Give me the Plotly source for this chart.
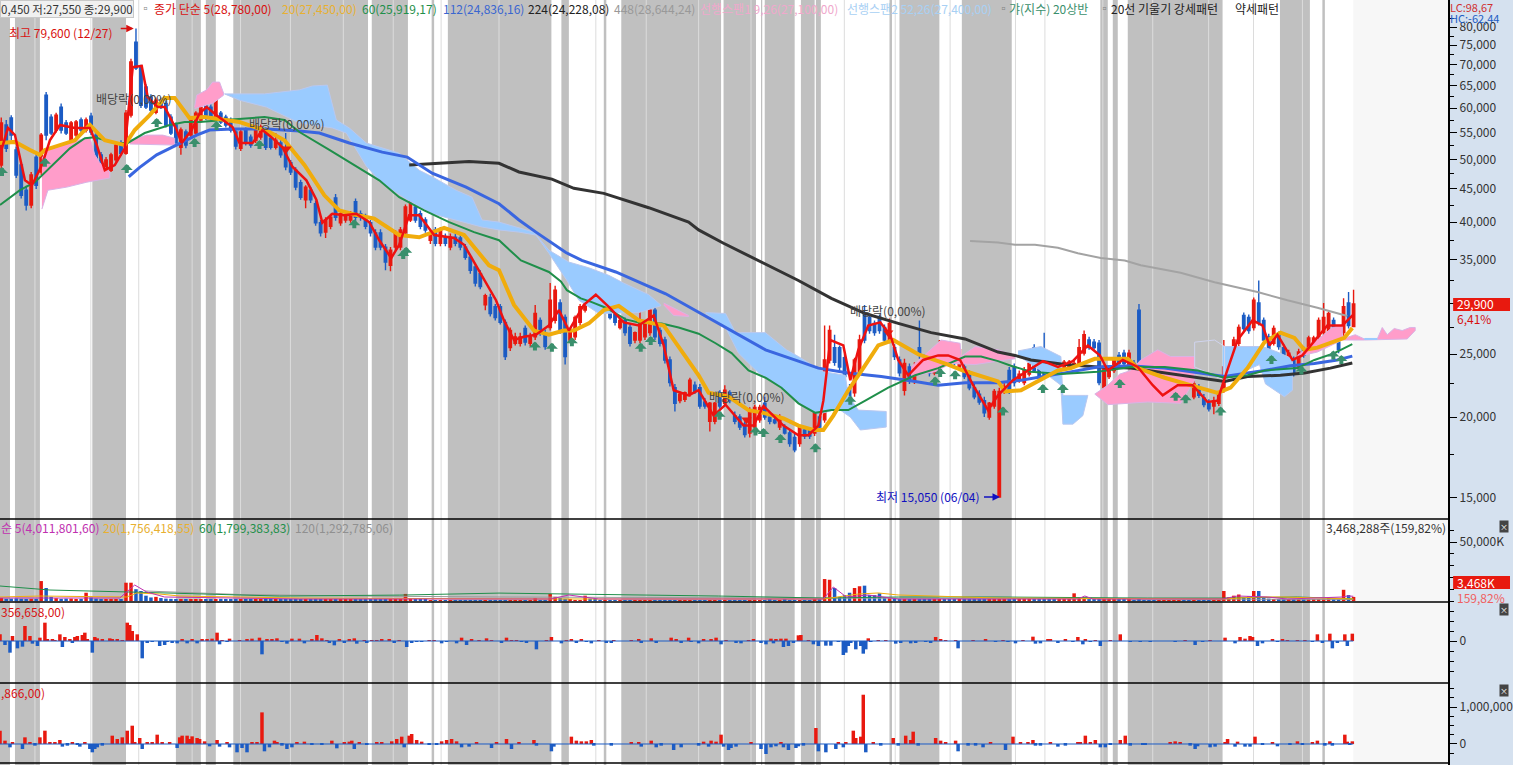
import math
import plotly.graph_objects as go

W, H = 1513, 765
AXIS_X = 1451

# prices in thousand won, one candle every 5 px of the reference
open_k = [
    49.0,56.5,57.9,51.7,49,44.8,42.5,50.4,47.8,62.8,
    58.1,55.5,60.2,56.9,53,54.5,57.5,55.5,58.3,54.5,
    50.8,47.3,48.1,49.9,53,51.1,58.5,75.8,69.5,64.7,
    62.4,59.1,61.7,61,58.1,56.5,52.2,55.1,54.5,54.9,
    57.5,60.6,60.2,57.9,58.9,58.1,57.5,55.1,52,55.5,
    54.1,53.5,54.1,55.5,53.9,52.2,53,51.7,49.4,48.1,
    46,43.3,44.8,42.7,39.9,38.6,39.4,43.6,39.9,40.3,
    40.3,43,41.2,40.7,39.9,38.5,38.5,36.6,34.3,36.6,
    36.6,38.5,40.3,42.2,41.2,40.3,37.5,38.9,37.1,37.9,
    36.6,37.9,37.8,36.6,35.3,34.1,33.3,29.8,30.6,29.6,
    29.6,28,25.6,26,26,27.4,26,26.6,28.2,27,
    27.5,28.2,30,28.5,26.3,26.6,28,29.25,32.5,31.8,
    30,29.25,30,29.25,27.5,28.2,27.5,26.3,26.3,26.6,
    27,29.25,27.2,26.3,24.5,22.2,21.2,21.3,21.7,22.4,
    22.2,21.1,19.7,19.7,21.8,21,21.8,20.1,20,19.5,
    18.9,19.3,19.8,21,20,19.8,19.3,19.3,18.9,18.6,
    18.2,19.1,19.1,18.9,20,19.8,24.5,25.6,25.6,24.7,
    22.2,21.8,23.4,28.9,28.5,27.9,28.5,27.5,26.3,25.6,
    24.5,22,23.9,22.8,25.6,24.7,24.2,23.4,23.9,25.4,
    25,24.7,23.9,23.9,23.3,22.2,21.7,21.2,20,20.8,
    15.05,21.9,23.6,23.9,22.8,22.6,23.3,25.6,24.5,24.5,
    24.5,24.2,23.1,23.9,23.9,24.1,24.2,25.1,26.3,26.1,
    26,22.2,23.1,23.6,24.9,25.1,23.9,24.2,29.25,23.9,
    23.2,22.6,21.5,21.6,21.6,21.9,22.5,23,23,21.5,
    22.2,21.4,21,20.8,21,22,23.9,24.7,26,28.7,
    28.5,27.5,30,28.2,26.6,26,26.8,25.6,24.5,24.5,
    23.9,25.4,25.4,25.7,26.6,27,26.8,28.2,26.1,27,
    30,27.6]
high_k = [
    58,57.5,58.5,52.3,49.5,45.5,47.8,51,54.9,63.5,
    58.7,59,61,57.5,57.3,57.5,58,58,59,55,
    51.3,50.4,51.2,53,53.5,59.6,71.5,79.6,70,65.3,
    63,62.3,62.3,61.7,58.7,57,56,55.6,58,59.3,
    60.8,61.2,60.8,62.8,59.4,58.6,58,55.6,55.6,56,
    54.6,56.6,56.6,56,54.4,54.9,53.5,54.9,49.9,48.6,
    46.5,45.6,45.3,43.2,40.3,40.7,41.2,44.2,41.6,41.3,
    41.6,43.5,41.7,41.2,40.3,39,39,37,36.6,38.9,
    39.3,42.6,44,42.7,41.7,40.7,38.9,39.3,39.3,38.4,
    38.4,38.4,38.2,37,35.7,34.5,33.7,31,31,29.9,
    29.9,28.3,27.5,27,27,27.7,27,29.8,28.5,27.3,
    32.2,31.9,30.4,28.8,27.3,28.7,29.9,31.4,33.3,32.2,
    30.3,30.8,30.3,29.5,28.4,28.5,27.8,27.1,29.8,28.2,
    29.6,30,27.5,26.6,24.8,22.5,21.9,21.9,23,22.7,
    22.5,21.4,21.1,21.1,22,22.4,22,20.4,20.2,19.7,
    20.7,20.9,20.9,21.5,20.2,20,20.2,19.5,19.1,18.9,
    19.4,19.3,19.3,20.5,20.2,27.7,27.7,26.8,25.8,25,
    22.5,24.7,26.8,29.8,28.8,28.2,28.8,27.8,28.4,25.9,
    24.8,24.6,24.2,24.3,28.2,25,24.5,24.5,26.3,25.7,
    25.3,25,25.7,24.2,23.6,22.5,22,21.5,21.1,22.1,
    22.2,22.6,23.9,24.2,23.6,23.9,24.4,25.9,24.8,27,
    24.8,24.5,24.1,24.5,24.5,24.4,26.4,27.2,26.6,26.4,
    26.3,24,24,24.7,25.2,25.4,25.4,24.5,29.9,24.2,
    23.5,22.9,22,22,22.2,22.8,23.3,23.3,23.3,22.8,
    22.5,21.7,21.3,21.5,21.9,26.3,24.9,26.6,27.8,29,
    28.8,30.6,32.5,28.5,26.9,27.7,27.1,25.9,25.4,24.8,
    25.5,25.7,26.7,26.7,28.5,30,29.1,28.5,26.4,30.5,
    31.2,31.45]
low_k = [
    48.1,51.3,53.5,46.8,43.5,41.7,42,45,47.3,53.5,
    54.5,55,54.8,54.5,52.2,54,55,55,54.5,49.4,
    47.3,46.8,47.8,49.4,50.6,50.8,58,68.7,60,59.8,
    59,58.7,59.8,56,54.5,52.7,50.8,52,54,54.5,
    57,57.5,57.4,57.4,56.7,56,55,51.8,51.5,52.5,
    52.1,53,53.6,51.7,51.8,51.8,50.3,48.1,47.3,44.8,
    43.3,42,42.8,39.5,38,37.8,39,40.2,39.5,39.9,
    39.9,40.2,40.2,39,38,36.2,36.2,33.7,33.6,36.2,
    36.2,38,40,39.9,39,38.5,37,36.7,36.7,36.7,
    36.2,36.7,36.2,35,33.3,31.8,31.5,29.25,28.6,28.2,
    27.8,24.5,25.3,25.8,25.7,25.8,25.7,26.3,26.7,25.4,
    27.2,27.9,26.9,24.1,26,26.3,27.7,29,30,29.7,
    29,29,28.3,27.7,27.3,26.7,25.7,26,26,26.3,
    26.7,26.3,25.7,24.2,22.3,20.4,21,21.1,21.5,21.7,
    20.6,20.6,19,19.5,20.6,20.8,21,19.5,19.1,18.6,
    18.6,19.1,19.6,19.8,19.5,19.5,19.1,18.8,18,17.65,
    18,18.5,18.5,18.7,19.1,19.6,24.2,24,23.6,22.8,
    20.5,21.5,23.2,26,26.9,26.7,26.9,26,26,24.5,
    23.1,21.6,22.5,22.5,24.6,24,23.1,23.2,23.7,24.2,
    24,24,23.7,22.9,22,21.3,20.9,20,19.8,20.6,
    15.05,21.7,21.7,22.3,22.6,22.4,23.1,23.4,22.9,22.9,
    23.2,23,22.9,23.7,23.7,23.9,24,24.9,25.4,25.4,
    22.4,22,22.9,23.4,24,24,23.7,22.7,23,22.9,
    22,21.3,21.3,21.4,21.4,21.7,22.3,22.2,22.3,21.3,
    21.4,20.7,20.4,20.2,20.8,21.8,23.7,24.5,25.7,27.1,
    26.9,27.2,27.7,26,25.1,25.8,25.4,24.2,24.3,23.1,
    23.7,24.7,25.1,25.4,26.3,26.7,26.5,26.3,25.1,26.7,
    27.4,27.55]
close_k = [
    56.9,52,54.5,47.3,44,42.5,47.3,45.6,54.5,54.5,
    54.9,58.5,55.5,54.9,56.9,57.1,55.5,57.5,55.1,49.9,
    47.8,49.9,50.8,52.6,51.1,58.9,70.7,69.2,60.6,60.2,
    59.6,61.7,60.2,56.5,54.9,53.1,55.5,52.6,57.5,58.9,
    60.2,57.9,57.9,62.4,57.1,56.5,55.5,52.4,55.1,53,
    52.6,56.1,56.1,52.2,52.2,53.5,50.8,48.7,47.8,45.3,
    43.7,45.3,43.3,39.9,38.5,40.3,40.7,40.7,41.2,41,
    41.2,40.7,40.7,39.4,38.5,36.6,36.6,34.7,36.2,38.5,
    38.9,42.2,43.3,40.3,39.4,38.9,38.5,37.1,38.9,37.1,
    37.9,37.1,36.6,35.3,33.7,32.2,31.8,30.8,28.9,28.5,
    28,24.8,27.2,26.6,26.6,26.1,26.6,28.9,27,25.7,
    30.3,31.4,27.2,24.8,27,28.5,29.6,31.1,30.3,30,
    29.25,30.5,28.5,28,28.2,27,26,27,28.2,28,
    29.25,26.6,26,24.5,22.6,21,21.7,21.8,22.8,21.9,
    20.8,20.8,21,21,20.8,22,21.2,19.7,19.3,18.8,
    20.5,20.7,20.7,20,19.7,19.6,20,18.9,18.2,17.8,
    19.3,18.7,18.7,20.3,19.3,24.5,27.2,24.3,23.9,23.1,
    20.7,24.5,26.3,26.3,27.2,27,27.2,26.3,27.9,24.8,
    23.4,24.2,22.8,23.9,24.9,24.2,23.4,24.2,25.6,24.5,
    24.2,24.2,25.4,23.1,22.2,21.5,21.1,20.3,21,21.9,
    21.9,22.3,22,22.6,23.3,23.6,24.2,23.6,23.1,23.1,
    23.4,23.2,23.9,24.3,24.3,24.2,25.6,26.8,25.6,25.6,
    22.6,23.9,23.8,24.5,24.2,24.2,25.1,23,23.1,23.2,
    22.2,21.5,21.9,21.9,22,22.5,23.1,22.4,22.5,22.5,
    21.6,20.9,20.6,21.2,21.7,23.9,24.7,26.3,27.5,27.4,
    27.2,30.3,28,26.3,25.4,27.4,25.7,24.5,25.1,23.4,
    25.2,24.9,26.5,26.5,28.2,28.5,28.9,26.6,25.4,29.6,
    27.7,29.9]

# volume in thousand shares, same candles
volume_k = [
    2500,1800,2000,2200,1800,1600,1800,1800,16900,11000,
    3500,2400,1800,2000,2000,1500,1800,7000,3000,2000,
    1600,1500,1500,1700,1600,15500,15500,10000,8500,4500,
    3000,3500,2500,2000,1800,1600,1600,1500,1500,1500,
    1500,1500,1300,1300,1800,1300,1300,1200,1200,1200,
    1200,1200,1200,1200,1300,1200,1200,1100,1100,1100,
    1000,1000,1000,1000,1000,1100,1000,1000,1000,1000,
    1000,900,1000,900,900,900,900,1000,1000,900,
    900,6000,2500,2000,900,900,800,800,800,800,
    800,800,800,800,700,800,700,800,700,800,
    800,800,800,800,800,700,800,2500,800,800,
    6000,3500,2500,1200,1000,800,800,4500,2000,1800,
    800,800,700,800,700,800,800,700,800,800,
    700,800,800,700,800,700,800,800,700,800,
    800,700,800,800,700,800,800,700,800,800,
    800,700,800,800,900,800,800,900,800,800,
    800,800,800,1800,1000,18600,18000,11000,3500,5000,
    7000,11000,12500,13000,5000,5000,6500,3000,2500,2000,
    1800,1500,1300,1200,1100,1000,1000,1000,1000,1000,
    1000,900,900,900,1000,900,900,900,900,900,
    900,1100,900,900,900,900,900,900,900,900,
    900,900,900,900,900,6500,2000,1600,1200,1000,
    900,900,900,900,900,900,900,800,900,800,
    800,800,800,800,800,800,800,800,800,800,
    800,800,800,800,800,8500,3000,4500,5500,3000,
    4000,8500,8500,3000,2000,1500,1200,1000,900,900,
    900,900,900,1500,900,900,2500,1000,900,9500,
    5000,3468]

# moving averages, read at the bends of each line (day, thousand won)
ma5_days = [0,3.2,6,10,12.8,16.8,20,24,30,36,38.8,42,46,50,53.2,56.8,59.2,63.2,66,70.8,72.8,76.8,80,82.8,86.8,93.2,96,101.2,105.2,108.8,113.2,117.2,122.8,126.8,129.2,133.2,138,142.8,148,152,156.8,160,164,168,174,182,186,190,194.8,198.8,202,206,210,214.8,220,224,228,234,238.8,244,250,256,262,266,270,276,280,286,290.8,298,302,306,314,320,324,328,330,332.8,338,340.8,344,348,352.8,356.8,360,364,370,376,380,384.8,390,396,400,406,412,418,424,430,436,440.8,444,450,456,462,466,472,478,484,488,491.2,496,502,506,508.8,512,518,522,527.2,532,538,542.4]
ma5_vals = [50.8,55.9,54.5,46.4,45.6,49,53.5,56.5,55.9,55.9,52.6,48.1,49,52,69.4,69.7,62.4,60.2,60.2,55.5,53,55.5,58.9,60.2,58.5,56.1,53,53,55.5,54.1,52.2,48.7,46.4,43.3,39.9,41.2,41,41.2,40,37.5,35.2,36.9,41,41,38.2,37.8,36.9,34.7,32.2,30.3,28.2,26.3,26.6,26.8,27.7,29.25,27.2,29.8,30.9,29.6,28,27.7,28.7,25.8,22,21.6,22,20.1,20.9,19.4,19.4,20.8,19.4,18.75,18.75,19.4,21.2,26.3,25.8,22.8,25.4,27.7,28,26.8,24.5,23.2,24.5,24.9,24.9,24.5,22.4,20.5,21.6,22.8,23.6,24.4,23.9,24.4,25.8,24.9,23.6,24.5,23.9,22.4,21.6,22.4,22.4,21.1,21.2,23.2,26.3,28.2,27.7,25.8,26.8,24.5,24.9,26.3,27.7,27.7,28.78]
ma20_days = [0,6,12,16,18,24,30,36,42,50,54,60,66,70,76,82,96,108,114,122,130,136,142,150,160,168,178,186,196,200,206,214,220,226,230,236,242,248,256,266,276,280,284,292,300,306,314,320,326,330,334,340,346,352,358,368,380,386,400,402.8,409.2,416,424,429.2,438.8,445.2,452,456,466.8,478.8,488,493.2,500,506.8,513.2,518.8,522.8,528,533.2,538.8,542]
ma20_vals = [53,53.2,51.7,50.8,51.7,52.6,53.5,56.5,53.5,52.6,55.5,58.5,62.2,62.2,57.9,58.1,57.1,55.1,53.5,49,44,41.7,41.1,40.5,38.2,37.9,39.2,38.2,34.3,33.7,29.8,27.2,26.8,27.2,27.2,27.9,29.25,29.7,28.2,27.7,24.5,23.2,21.8,21.5,20.5,20.3,19.9,19.4,19.1,19.1,20.1,22,23.8,25.8,26.3,25,24.1,23.6,22.7,21.9,22,22.7,23.6,23.8,24.6,24.6,24.6,23.8,23,22.3,21.8,22.2,23.8,26.1,27,26.5,25.4,25.6,26,26.5,27.45]
ma60_days = [0,8,14,20,28,34,38,46,51.2,58,68,74,80,90,106,114,120,132,142,152,160,170,180,190,200,208.8,220,224.8,227.2,232.8,237.2,242.8,250.8,256,265.2,272,280,286.8,293.2,300,306.8,313.2,320,326.8,333.2,340,346.8,356,366.8,376,386.8,393.2,400,405.2,413.2,425.2,440,453.2,466.8,480,490.8,500,506.8,520,526.8,534.8,542]
ma60_vals = [42.5,44.8,46.1,48.6,52,53.9,54.1,53,53,54.9,56.5,57.1,57.1,57.5,58.1,57.5,55.1,51.7,49,46.4,43.7,41.7,40,38.6,37.5,34.9,33.5,32.4,31.4,30.5,30.1,29.5,28.3,28,27.9,27.5,26.9,26,25.1,23.6,23,22.2,21,20.3,20.5,20.5,21.2,22.2,23.2,23.8,24.8,24.8,24.4,24,23.5,23.3,23.5,23.9,23.9,23.6,23,23.2,23.6,23.8,24.5,25.1,25.92]
ma112_days = [51.6,56,62.8,70.8,78.8,84,93.2,106.8,120,128,140,153.2,163.2,173.2,186.8,200,208,214.8,226.8,233.2,246.8,266.8,280,293.2,306.8,320,328,340,353.2,366.8,376,386.8,400,409.2,418.8,426.8,440,453.2,466.8,480,490.8,500,506.8,517.2,526.8,536,542]
ma112_vals = [47,48.6,50.8,52.6,54.5,55.5,55.7,55.7,55.3,54.9,53,51.3,50.4,47.6,45.3,42.7,40.3,38.6,35.9,34.9,33.5,31,29,27.2,25.4,24.4,23.8,23.4,23.1,22.7,22.4,22.6,22.6,22.8,23.1,23.4,23.9,24,23.8,23.4,23.1,23.4,23.6,24,24.2,24.5,24.84]
ma224_days = [164,168,188,200,208,221.2,230,242,252,260,276,280,290,304,320,333.2,346.8,360,373.2,386.8,400,406.8,413.2,426.8,440,453.2,466.8,480,490.8,500,513.2,522.8,533.2,542]
ma224_vals = [49,49.1,49.6,49.3,47.8,46.6,45.1,44.3,43.1,42.1,40,38.9,37.1,34.9,32.5,30.5,28.9,27.9,27,26.4,25.2,24.9,24.5,24.1,23.9,23.8,23.4,23,22.7,23.1,23.2,23.4,23.8,24.23]
ma448_days = [388.8,400,406.8,414.8,424,432,441.2,450.8,457.2,473.2,486.8,504,516,528,540]
ma448_vals = [37.4,37.2,36.9,36.9,36.5,35.8,35.2,34.9,34.3,33.4,32.3,31.2,30.3,29.5,28.64]

# ichimoku cloud pieces: upper edge left to right, lower edge right to left
clouds = [
    ("pink", [16.8,20,28,36,38,40,44], [50.2,52.2,53.1,54.1,50.8,49.4,47.8], [44,34.8,26.8,19.2,16.8], [46.8,46.1,45.3,44.8,41.9]),
    ("pink", [52,58.8,65.2,70], [53.5,54.5,54.5,53.9], [70,52], [52.6,52.8]),
    ("pink", [78,78.8,82.8,85.2,88,89.6], [60.2,62.8,64,65.8,65.8,63.3], [89.6,85.2,80,78], [62.8,61,60.2,59.9]),
    ("blue", [90,106,120,125.2,131.2,133.2,134.8,140,146.8,160,168,173.2,182.8,189.2,193.2,200,208,214,220,228,236,244,250,260,264.8],
     [63.1,63.1,64,64.9,65.1,60.6,57.5,55.9,53,51.1,48.1,47,44.8,43.7,40.3,40,39.2,38.6,36.2,34.7,34,33.1,32.2,30.9,29.8],
     [264.8,256,240,232,227.2,220,214.8,208,200,193.2,186.8,173.2,163.2,153.2,146.8,138.8,133.2,120,106.8,96,90],
     [29.7,29,28.9,30.3,32.5,35.8,38.2,38.6,38.9,39.3,39.9,41.2,43.3,45.9,48.8,54.9,55.9,56.9,60.2,61.7,63.1]),
    ("pink", [266,272,276], [30,29.25,28.7], [276,270,266], [28.6,28.7,29.8]),
    ("blue", [282.8,290.8,294.8,306.8,315.2,320,330,338.8,340,344,355.2], [29,28.9,27,27,25.4,24.8,23.5,23.2,21.6,20.5,20.4],
     [355.2,344.8,340.8,336,328,321.2,313.2,304,296,290.8,282.8], [19.3,19.1,20,20.6,20.2,20.9,22.2,23.4,25.1,27.5,28.9]),
    ("pink", [365.2,377.2,384.8,385.2,390.8,400,406.8], [23.9,26.3,26,24.8,25.7,25.4,24.9], [406.8,400,390.8,381.2,374.8,365.2], [24.6,24.4,24.1,24.2,23.5,23.1]),
    ("blue", [408,417.2,425.2,426,435.2], [25.3,25.7,24.8,21.6,21.6], [436,434,430,426,425.2,420,417.2,408], [21.6,20.1,19.5,19.5,22.4,23.2,23.6,24.9]),
    ("pink", [438.8,444,448.8,453.2,457.2,464,469.2,478.8], [21.7,22.4,23.3,23.6,24.5,25.4,24.8,24.8], [478.8,473.2,460,444,438.8], [22.8,21,21.1,20.9,21.7]),
    ("blue", [490,506,512,518], [25.7,25.7,25.2,24.6], [518,514.8,507.2,504.8,496,490], [22,21.5,22.5,24.1,23.3,22.8]),
    ("pink", [520,528,534,538], [24.9,26.3,27.5,27.7], [538,528,520], [26.3,25.2,24.8]),
    ("pink", [538,543.2,546.8,552,554,556,558.8,562,565.2,567.2], [26.4,26.8,26.4,26.4,27.5,26.8,27.4,27.2,27.5,27.5], [567.2,564,546.8,538], [27.2,26.4,26.3,26.3]),
]

signal_days = [0.8,18,50.8,62.8,78,86.8,104,142,161.6,162.8,214.4,221.2,229.2,256.8,260.8,288.4,302.8,306,312.8,326.8,340.8,374.8,376.8,382.8,402,418,426,448.8,471.2,475.2,489.2,509.6,521.6,534.4,537.6]
signal_vals = [47.8,49.4,48.3,56.9,53,56.3,52.6,39.7,35.6,36,25.7,25.6,26.1,25.6,26.2,20.1,19,18.9,18.5,17.9,21.2,22.7,23.4,23.2,20.4,22.1,22.1,22.5,21.5,21.3,20.4,24.5,23.6,24.9,24.5]
weak_days = [114.8,299.2,356]
weak_vals = [51.9,19.8,27]

# volume averages
vol5_days = [0,48,54,58.8,66,120,220.8,228,240,330,334,339.2,348,354,360,432,434.8,438,490,496,508,516,538,540,542.4]
vol5_vals = [2541,2541,13552,7623,3388,1694,1694,5082,1694,1694,11858,3388,5082,3388,1694,1694,4235,1694,1694,4235,3388,1694,3388,4235,4011]
vol20_days = [0,16,50.8,54.8,64,72,120,220,330,344,352,360,400,490,504,514,542.4]
vol20_vals = [3400,4200,3400,6800,5900,4200,2500,1700,1700,5900,6800,5100,2500,1700,3400,3400,1756]
vol60_days = [0,20,52,112,160,200,288,330,360,400,460,490,520,542.4]
vol60_vals = [12700,9300,7600,4200,5000,6700,4200,2500,3400,3400,2500,2500,3400,1799]
vol120_days = [58,72,96,144,200,330,400,542.4]
vol120_vals = [8500,7600,5500,4200,3400,2500,2000,1292]

# third panel, thousands
flow_days = [0,2,4,5,7,9,10,12,13,15,16,18,19,21,22,24,25,26,28,29,30,31,33,34,35,37,38,39,41,44,45,47,49,51,52,53,55,57,59,61,64,66,67,69,71,73,75,77,79,81,83,85,87,88,89,91,92,96,99,101,104,105,107,109,111,113,115,117,120,122,125,127,129,131,132,134,136,138,140,142,143,146,147,149,151,153,156,158,160,163,165,167,169,172,174,177,179,183,185,187,189,192,195,197,
    201,203,205,207,209,211,215,219,221,225,227,229,231,233,235,237,240,243,245,246,253,256,257,261,263,269,271,273,276,277,280,282,285,287,289,291,295,297,300,302,305,307,309,310,311,313,314,315,316,318,320,321,324,326,328,331,333,336,338,339,340,341,343,345,346,347,348,349,352,355,359,361,365,367,371,373,375,377,379,383,384,390,395,399,
    402,404,407,410,414,415,417,420,421,424,427,430,432,434,435,437,439,441,445,449,453,457,461,471,475,479,482,485,491,495,497,499,501,502,504,506,510,512,514,516,520,523,526,528,530,533,534,536,539,540,542]
flow_vals = [400,-240,-700,300,-440,-340,900,300,-160,-300,200,1100,100,100,60,400,-360,240,100,-100,240,300,360,500,100,-700,240,160,100,160,100,100,60,1100,960,600,400,-1040,-100,-60,-300,-240,-60,-100,-140,100,-140,100,-140,100,100,140,500,-200,60,-60,140,60,100,140,200,-800,100,100,160,-60,-160,140,140,-140,100,360,160,60,-100,-260,100,-100,100,160,-160,60,-100,60,60,100,100,-100,60,-360,-100,-60,-60,60,60,-140,-60,-140,200,-240,100,60,160,60,
    -100,200,60,60,-60,-100,-500,60,240,-140,60,100,-100,100,-60,-140,60,-100,-100,60,60,100,-100,160,-100,200,100,-100,200,-60,-140,100,100,200,-200,60,-100,-140,60,100,-100,-200,140,-140,100,140,-360,140,-300,-100,340,360,60,-200,-300,-280,-280,-60,-840,-700,-300,-100,-500,-300,-760,-500,160,-60,60,60,-160,-100,-140,-100,-60,-100,240,100,60,60,-440,60,100,-60,
    60,-60,-140,60,260,-160,-140,100,100,-100,100,-60,240,-200,100,-60,60,-300,60,400,-60,-60,-60,-60,60,-240,-60,60,200,-140,240,140,300,240,-300,-140,100,-60,100,60,60,60,-60,400,-100,440,-440,-100,400,-300,440]

# fourth panel, thousands
net_days = [0,2,4,5,9,10,12,14,16,18,20,22,24,25,27,29,31,32,34,36,37,38,39,41,45,47,49,51,53,54,56,57,59,61,63,65,68,71,72,73,75,76,77,79,80,82,84,87,88,91,92,95,97,99,101,103,105,106,108,110,111,113,115,117,119,122,125,129,133,135,138,140,141,142,144,147,151,153,157,159,161,162,164,165,167,169,172,175,177,179,181,183,185,188,191,197,199,
    203,205,208,214,215,221,222,229,231,233,235,237,238,245,253,256,257,261,263,265,270,273,280,282,284,285,287,289,290,292,293,295,301,305,307,309,311,313,314,316,319,320,322,327,328,331,335,336,338,339,342,343,345,346,347,350,353,358,360,363,365,366,368,375,377,379,383,384,388,391,394,397,
    403,406,409,412,414,415,417,421,424,427,432,433,435,437,439,441,443,445,449,451,453,458,459,469,471,473,477,479,480,485,487,491,492,495,496,499,501,503,506,510,512,517,520,522,526,528,531,533,534,539,540,541,542]
net_vals = [360,90,-90,45,-135,180,45,-45,180,360,45,27,108,-72,-45,27,-27,-72,45,-135,-225,-135,-90,-45,225,135,180,360,495,45,162,-135,27,27,252,45,27,-108,180,225,225,135,207,162,135,72,-63,108,-72,27,-90,-225,-108,-225,27,45,855,-198,-90,90,27,-45,-135,-90,27,63,-27,-27,90,-117,27,63,90,-135,45,-27,27,27,72,135,198,-90,225,270,108,63,-27,-27,72,108,135,72,-90,-72,27,-108,27,
    135,-135,27,108,-45,-198,-72,198,90,72,72,108,-45,-45,27,27,-72,90,-90,-45,-162,-90,-45,63,-72,90,63,252,-72,-162,-108,-72,45,-135,-270,-90,-63,27,-90,-162,-108,-63,-45,432,-198,-225,-135,45,-90,45,360,162,198,1332,-225,45,-45,162,-45,225,108,333,-45,162,90,27,90,-198,-45,-45,-90,27,
    -162,198,27,45,108,-45,-45,45,-72,-45,45,45,225,27,108,-90,-90,-27,108,225,-45,-27,-27,45,72,27,-45,-135,-63,-90,-72,27,135,-72,63,-72,-72,198,-27,45,-63,-27,72,-27,45,90,-45,72,-45,252,63,-27,72]

# grey background runs, in days
band_starts = [0,6,37,70.5,82.5,93.5,149,173,179.5,225,242,249,290,305,306.5,321,327,356.5,360.5,385.5,441,446,452,513,530]
band_ends = [4,16,50.5,80.5,86.5,147.5,163.5,174,221,228,243,289,303,305.5,318.5,326.5,329,357.5,376.5,405.5,444,448,490,525,531]
month_days = [14,36.4,55.6,77,96.4,116.4,137.6,157.6,176.8,200,238.8,259,280,301,338.4,358.8,380.8,407,418.8,442,462,484.4,502.4,522]

price_ticks = [15000,20000,25000,35000,40000,45000,50000,55000,60000,65000,70000,75000,80000]
price_tick_labels = ["15,000","20,000","25,000","35,000","40,000","45,000","50,000","55,000","60,000","65,000","70,000","75,000","80,000"]
price_minor = [17500,22500,27500,30000,32500,37500,42500,47500,52500,57500,62500,67500,72500,77500,82500]

RED = "#e8190f"
BLUE = "#1c5cc4"
PINK = "#ff9dca"
SKY = "#9acbff"
FONT = "Noto Sans CJK KR"


def px_x(x):
    return x / W


def px_y(y):
    return 1 - y / H


candle_days = [2 * i + 0.5 for i in range(len(close_k))]
won = lambda vals: [v * 1000 for v in vals]

fig = go.Figure()

for name, top_x, top_y, bot_x, bot_y in clouds:
    color = PINK if name == "pink" else SKY
    edge = "#d9b3e6" if name == "pink" else "#b9c8f0"
    fig.add_trace(go.Scatter(x=top_x + bot_x, y=won(top_y + bot_y), mode="lines", fill="toself",
                             fillcolor=color, line=dict(color=edge, width=1), hoverinfo="skip"))
# the pale cloud outline inside the grey run and the thin blue sliver after it
fig.add_trace(go.Scatter(x=[478.8,486.8,490.8,490.8,478.8,478.8], y=won([26.1,26.3,25.7,22.8,23.9,26.1]),
                         mode="lines", line=dict(color="#d0d4ee", width=1)))
fig.add_trace(go.Scatter(x=[546.8,552], y=won([26.4,26.4]), mode="lines", line=dict(color=SKY, width=2)))

fig.add_trace(go.Candlestick(x=candle_days, open=won(open_k), high=won(high_k), low=won(low_k), close=won(close_k),
                             increasing=dict(line=dict(color=RED, width=1.4), fillcolor=RED),
                             decreasing=dict(line=dict(color=BLUE, width=1.4), fillcolor=BLUE),
                             whiskerwidth=0))

lines = [
    (ma448_days, ma448_vals, "#a3a3a3", 2),
    (ma224_days, ma224_vals, "#333333", 3),
    (ma112_days, ma112_vals, "#3a66e0", 3),
    (ma60_days, ma60_vals, "#1f8f4a", 2),
    (ma20_days, ma20_vals, "#f0ac0c", 4),
    (ma5_days, ma5_vals, "#ee1111", 2.5),
]
for d, v, c, w in lines:
    fig.add_trace(go.Scatter(x=d, y=won(v), mode="lines", line=dict(color=c, width=w)))

fig.add_trace(go.Scatter(x=weak_days, y=won(weak_vals), mode="markers",
                         marker=dict(symbol="triangle-down", size=9, color=RED, line=dict(width=0))))

vol_colors = [RED if c >= o else BLUE for o, c in zip(open_k, close_k)]
fig.add_trace(go.Bar(x=candle_days, y=volume_k, width=1.4, marker=dict(color=vol_colors, line=dict(width=0)), yaxis="y2"))
for d, v, c in [(vol120_days, vol120_vals, "#9a9a9a"), (vol60_days, vol60_vals, "#1f8f4a"),
                (vol20_days, vol20_vals, "#f0ac0c"), (vol5_days, vol5_vals, "#c030b0")]:
    fig.add_trace(go.Scatter(x=d, y=v, mode="lines", line=dict(color=c, width=1), yaxis="y2"))

fig.add_trace(go.Bar(x=flow_days, y=flow_vals, width=1.4, yaxis="y3",
                     marker=dict(color=[RED if v > 0 else BLUE for v in flow_vals], line=dict(width=0))))
fig.add_trace(go.Bar(x=net_days, y=net_vals, width=1.4, yaxis="y4",
                     marker=dict(color=[RED if v > 0 else BLUE for v in net_vals], line=dict(width=0))))

shapes = []
for a, b in zip(band_starts, band_ends):
    shapes.append(dict(type="rect", xref="x", yref="paper", x0=a, x1=b, y0=0, y1=1,
                       fillcolor="#c0c0c0", line=dict(width=0), layer="below"))
for d in month_days:
    shapes.append(dict(type="line", xref="x", yref="paper", x0=d, x1=d, y0=0, y1=1,
                       line=dict(color="#dcdcdc", width=1), layer="below"))
shapes.append(dict(type="rect", xref="x", yref="paper", x0=542.4, x1=580.4, y0=0, y1=1,
                   fillcolor="#f7f7f7", line=dict(width=0), layer="below"))
for y in [519, 602, 683, 763]:
    shapes.append(dict(type="line", xref="paper", yref="paper", x0=0, x1=AXIS_X / W, y0=px_y(y), y1=px_y(y),
                       line=dict(color="black", width=1.5)))
# red price and volume tags on the axis strip
for y0, y1 in [(298, 311), (576, 589)]:
    shapes.append(dict(type="rect", xref="paper", yref="paper", x0=1456 / W, x1=1, y0=px_y(y1), y1=px_y(y0),
                       fillcolor=RED, line=dict(width=0), layer="above"))
fig.update_layout(shapes=shapes)


def label(x, y, text, color, size=12, anchor="left", **kw):
    fig.add_annotation(xref="paper", yref="paper", x=px_x(x), y=px_y(y), text=text, showarrow=False,
                       xanchor=anchor, yanchor="middle", font=dict(family=FONT, size=size, color=color),
                       borderpad=0, **kw)


label(0, 9, "0,450 저:27,550 종:29,900", "#333333", size=11.5, bgcolor="#f0f0f0", bordercolor="#c8c8c8", borderwidth=1)
label(139, 8, "▫", "#808080", size=11)
label(153, 9, "종가 단순 5(28,780,00)", "#d81010")
label(282, 9, "20(27,450,00)", "#e8b030")
label(362, 9, "60(25,919,17)", "#1f8f4a")
label(443, 9, "112(24,836,16)", "#3a66d0")
label(528, 9, "224(24,228,08)", "#222222")
label(614, 9, "448(28,644,24)", "#999999")
label(700, 9, "선행스팬1 9,26(27,100,00)", "#f0a8cc")
label(848, 9, "선행스팬2 52,26(27,400,00)", "#a8d0f4")
label(999, 8, "▫", "#808080", size=11)
label(1010, 9, "갸(지수) 20상반", "#3a8f6c")
label(1100, 8, "▫", "#808080", size=11)
label(1112, 9, "20선 기울기 강세패턴", "#222222")
label(1236, 9, "약세패턴", "#222222")

label(1452, 7, "LC:98,67", "#d03030", size=11)
label(1452, 18, "HC:-62,44", "#1c5cc4", size=11)

label(8, 33, "최고 79,600 (12/27)", "#d81010")
label(877, 496, "최저 15,050 (06/04)", "#1010c0")
for x, y in [(95, 99), (248, 124), (709, 396), (851, 310)]:
    label(x, y, "배당락(0,00%)", "#444444")

label(1459, 304, "29,900", "white")
label(1459, 318, "6,41%", "#d81010")
label(1459, 582, "3,468K", "white")
label(1459, 597, "159,82%", "#f06060")
label(1450, 527, "3,468,288주(159,82%)", "#333333", anchor="right")

label(0, 527, "순 5(4,011,801,60)", "#c030b0")
label(102, 527, "20(1,756,418,55)", "#e8b030")
label(198, 527, "60(1,799,383,83)", "#1f8f4a")
label(295, 527, "120(1,292,785,06)", "#909090")
label(0, 611, "356,658,00)", "#d81010")
label(0, 692, ",866,00)", "#d81010")

for y in [526, 609, 690]:
    label(1507, y, "×", "white", size=8, anchor="center", bgcolor="#444444")

fig.add_annotation(xref="x", yref="y", x=53.6, y=math.log10(79600), ax=-16, ay=0, text=" ", showarrow=True,
                   arrowhead=2, arrowsize=1, arrowwidth=1.5, arrowcolor="#d81010")
fig.add_annotation(xref="x", yref="y", x=400.8, y=math.log10(15050), ax=-19, ay=0, text=" ", showarrow=True,
                   arrowhead=2, arrowsize=1, arrowwidth=1.5, arrowcolor="#1010c0")

# green signal arrows: stout head and stem, tip a little above the read centre
for d, v in zip(signal_days, signal_vals):
    fig.add_annotation(xref="x", yref="y", x=d, y=math.log10(v * 1000) + 0.0077, ax=0, ay=11, text=" ", showarrow=True,
                       font=dict(size=1), arrowhead=1, arrowsize=0.5, arrowwidth=4, arrowcolor="#3a8f6c")

tickfont = dict(family=FONT, size=12, color="#333333")
axis_common = dict(side="right", anchor="x", showgrid=False, zeroline=False, showline=True, linecolor="black",
                   linewidth=2, ticks="outside", ticklen=7, tickcolor="black", tickfont=tickfont, fixedrange=True)
minor_style = dict(ticks="outside", ticklen=4, tickcolor="black", showgrid=False, tickmode="array")

fig.update_layout(
    width=W, height=H, margin=dict(l=0, r=0, t=0, b=0, pad=0),
    paper_bgcolor="#d5e1ef", plot_bgcolor="white", showlegend=False, barmode="overlay", hovermode=False,
    xaxis=dict(domain=[0, AXIS_X / W], range=[0, 580.4], visible=False, fixedrange=True, rangeslider=dict(visible=False)),
    yaxis=dict(domain=[px_y(519), 1], type="log", range=[4.1436, 4.945], tickmode="array",
               tickvals=price_ticks, ticktext=price_tick_labels,
               minor=dict(tickvals=price_minor, **minor_style), **axis_common),
    yaxis2=dict(domain=[px_y(602), px_y(519)], range=[-850, 69500], tickmode="array", tickvals=[50000], ticktext=["50,000K"],
                minor=dict(tickvals=[0,10000,20000,30000,40000,60000], **minor_style), **axis_common),
    yaxis3=dict(domain=[px_y(683), px_y(602)], range=[-2520, 2340], tickmode="array", tickvals=[0], ticktext=["0"],
                minor=dict(tickvals=[-1800,-1200,-600,600,1200,1800], **minor_style), **axis_common),
    yaxis4=dict(domain=[0, px_y(683)], range=[-568, 1649], tickmode="array", tickvals=[0, 1000], ticktext=["0", "1,000,000"],
                minor=dict(tickvals=[-250,250,500,750,1250,1500], **minor_style), **axis_common),
)

# thin zero line under the two flow panels
for ax in ["y3", "y4"]:
    fig.add_trace(go.Scatter(x=[0, 542.4], y=[0, 0], mode="lines", line=dict(color=BLUE, width=1), yaxis=ax))

fig.write_html("out.html", config=dict(displayModeBar=False),
               post_script="document.body.style.margin='0';document.body.style.overflow='hidden';")
